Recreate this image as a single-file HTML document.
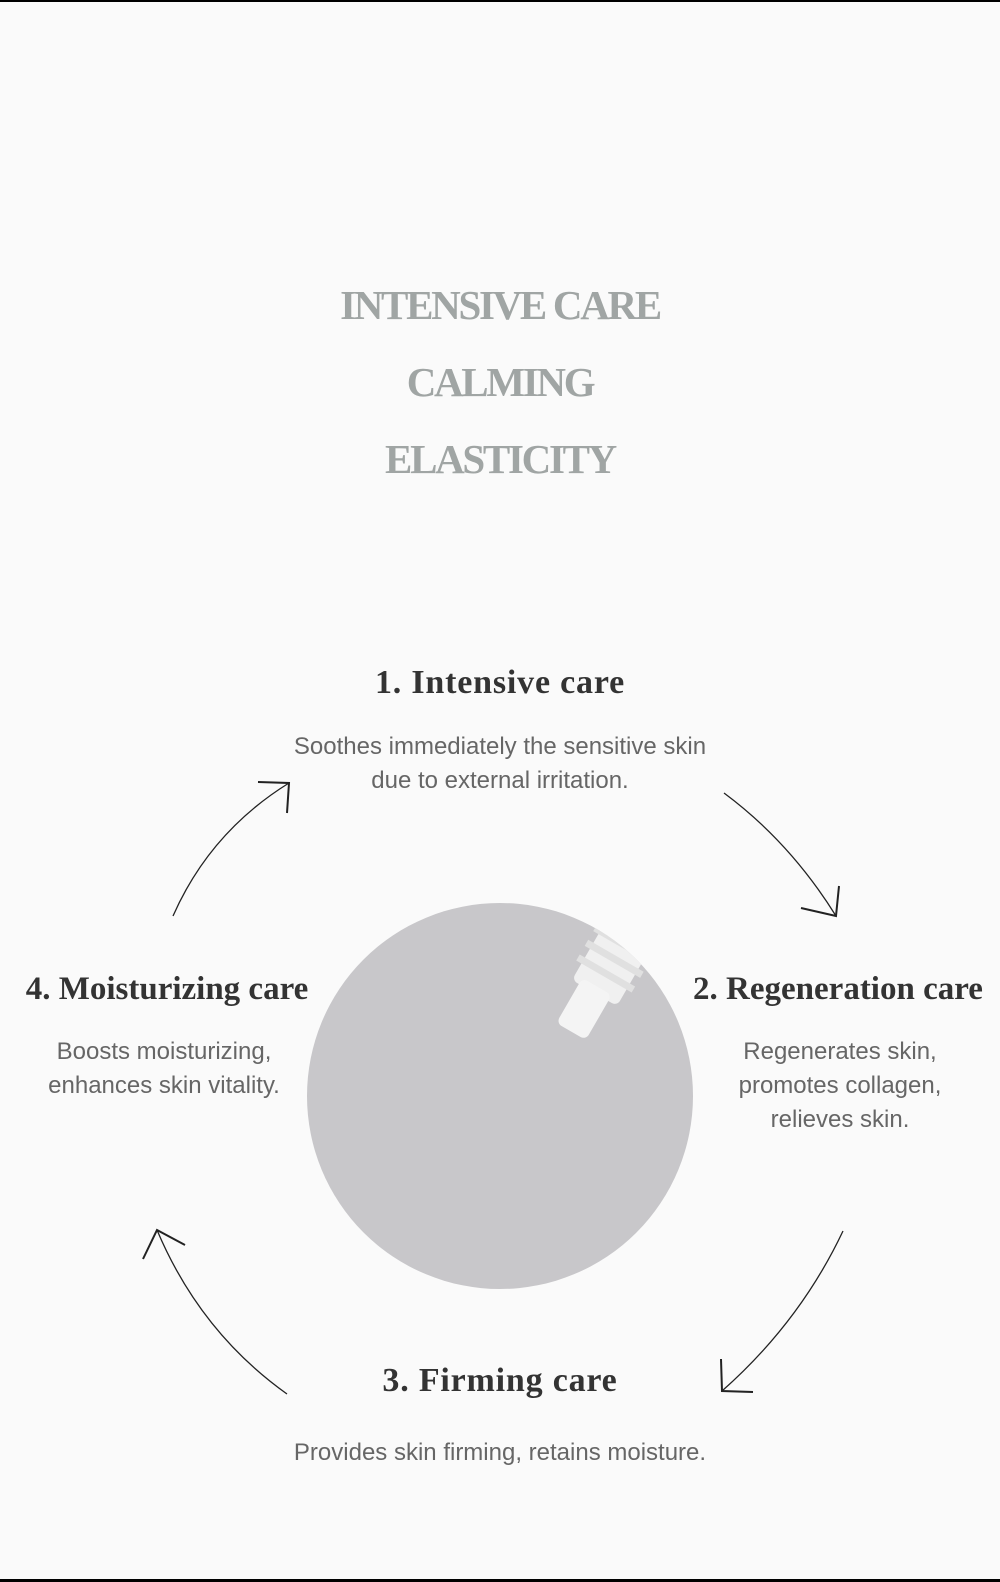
<!DOCTYPE html>
<html><head><meta charset="utf-8"><style>
body{margin:0;background:#fafafa;}
#c{position:relative;width:1000px;height:1582px;overflow:hidden;background:#fafafa;border-top:2px solid #000;border-bottom:3px solid #000;box-sizing:border-box;}
.t{position:absolute;left:0;width:1000px;text-align:center;font-family:"Liberation Serif",serif;font-weight:bold;color:#a0a5a4;font-size:41px;letter-spacing:-2.3px;line-height:50px;}
.h{position:absolute;font-family:"Liberation Serif",serif;font-weight:bold;color:#333;font-size:34px;line-height:40px;white-space:nowrap;text-align:center;letter-spacing:0.8px;}
.s{font-size:33px;letter-spacing:0px;}
.b{position:absolute;font-family:"Liberation Sans",sans-serif;color:#666;font-size:24px;line-height:34px;text-align:center;letter-spacing:0px;white-space:nowrap;}
</style></head><body><div id="c">
<div class="t" style="top:278px">INTENSIVE CARE</div>
<div class="t" style="top:355px">CALMING</div>
<div class="t" style="top:432px">ELASTICITY</div>

<div class="h" style="left:0;width:1000px;top:661px">1. Intensive care</div>
<div class="b" style="left:0;width:1000px;top:728px">Soothes immediately the sensitive skin<br>due to external irritation.</div>

<div class="h s" style="left:14px;width:306px;top:967px">4. Moisturizing care</div>
<div class="b" style="left:14px;width:300px;top:1033px">Boosts moisturizing,<br>enhances skin vitality.</div>

<div class="h s" style="left:685px;width:306px;top:967px">2. Regeneration care</div>
<div class="b" style="left:690px;width:300px;top:1033px">Regenerates skin,<br>promotes collagen,<br>relieves skin.</div>

<div class="h" style="left:0;width:1000px;top:1359px">3. Firming care</div>
<div class="b" style="left:0;width:1000px;top:1434px">Provides skin firming, retains moisture.</div>

<svg width="1000" height="1582" style="position:absolute;left:0;top:0" fill="none" stroke="#222">
<defs><clipPath id="cc"><circle cx="500" cy="1094" r="193"/></clipPath></defs>
<circle cx="500" cy="1094" r="193" fill="#c8c7ca" stroke="none"/>
<g clip-path="url(#cc)" stroke="none">
<g transform="rotate(30 580 1000)">
<rect x="562" y="905" width="52" height="80" rx="6" fill="#f0f0f0"/>
<rect x="556" y="925" width="64" height="7" fill="#e0e0e0"/>
<rect x="556" y="942" width="64" height="7" fill="#e0e0e0"/>
<rect x="556" y="959" width="64" height="7" fill="#e0e0e0"/>
<rect x="570" y="978" width="34" height="52" rx="6" fill="#f4f4f4"/>
</g>
</g>
<g stroke-width="1.3">
<path d="M173 914 Q210 830 289 781"/>
<path d="M258 780 L289 781 L287 811" stroke-width="2"/>
<path d="M724 791 Q790 840 836 914"/>
<path d="M801 906 L836 914 L839 884" stroke-width="2"/>
<path d="M843 1229 Q800 1320 722 1389"/>
<path d="M721 1357 L722 1389 L753 1390" stroke-width="2"/>
<path d="M287 1392 Q200 1330 157 1228"/>
<path d="M143 1257 L157 1228 L185 1243" stroke-width="2"/>
</g>
</svg>
</div></body></html>
